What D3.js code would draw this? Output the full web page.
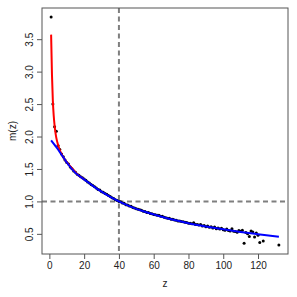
<!DOCTYPE html>
<html>
<head>
<meta charset="utf-8">
<script src="https://cdn.jsdelivr.net/npm/d3@7"></script>
<style>
  body { margin: 0; background: #fff; }
  svg { display: block; font-family: "Liberation Sans", Arial, sans-serif; }
  .tick text { font-size: 10px; fill: #222; }
</style>
</head>
<body>
<script>
const width = 297,
      height = 297;

// observed points m(z)
const pointZ = [
  1, 2, 3, 4, 5, 6, 7, 8, 9, 10,
  11, 12, 13, 14, 15, 16, 17, 18, 19, 20,
  21, 22, 23, 24, 25, 26, 27, 28, 29, 30,
  31, 32, 33, 34, 35, 36, 37, 38, 39, 40,
  41, 42, 43, 44, 45, 46, 47, 48, 49, 50,
  51, 52, 53, 54, 55, 56, 57, 58, 59, 60,
  61, 62, 63, 64, 65, 66, 67, 68, 69, 70,
  71, 72, 73, 74, 75, 76, 77, 78, 79, 80,
  81, 82, 83, 84, 85, 86, 87, 88, 89, 90,
  91, 92, 93, 94, 95, 96, 97, 98, 99, 100,
  101, 102, 103, 104, 105, 106, 107, 108, 109, 110,
  111, 112, 113, 114, 115, 116, 117, 118, 119, 120,
  121, 123, 132
];
const pointM = [
  3.84, 2.50, 2.15, 2.08, 1.86, 1.80, 1.73, 1.69, 1.64, 1.60,
  1.575, 1.53, 1.505, 1.47, 1.45, 1.42, 1.405, 1.38, 1.365, 1.345,
  1.325, 1.30, 1.285, 1.26, 1.245, 1.225, 1.205, 1.185, 1.175, 1.15,
  1.14, 1.12, 1.11, 1.09, 1.075, 1.055, 1.045, 1.025, 1.015, 1.00,
  0.995, 0.975, 0.97, 0.95, 0.945, 0.93, 0.925, 0.905, 0.90, 0.885,
  0.88, 0.87, 0.865, 0.85, 0.845, 0.83, 0.83, 0.815, 0.81, 0.80,
  0.795, 0.785, 0.785, 0.77, 0.77, 0.755, 0.75, 0.74, 0.74, 0.725,
  0.725, 0.715, 0.71, 0.70, 0.70, 0.69, 0.685, 0.68, 0.675, 0.665,
  0.665, 0.655, 0.67, 0.645, 0.645, 0.635, 0.645, 0.62, 0.63, 0.61,
  0.62, 0.60, 0.61, 0.59, 0.605, 0.58, 0.59, 0.575, 0.585, 0.565,
  0.555, 0.575, 0.55, 0.545, 0.58, 0.54, 0.535, 0.525, 0.55, 0.54,
  0.555, 0.355, 0.52, 0.50, 0.46, 0.545, 0.53, 0.45, 0.515, 0.48,
  0.365, 0.39, 0.33
];

// red fitted curve (low z)
const redZ = [1, 1.5, 2, 2.5, 3, 3.5, 4, 5, 6, 7, 8, 9, 10, 12, 14, 16, 20];
const redM = [3.57, 2.95, 2.55, 2.32, 2.17, 2.06, 1.98, 1.87, 1.79, 1.73, 1.68, 1.64, 1.605, 1.54, 1.48, 1.42, 1.34];

// blue fitted curve
const blueZ = [1, 3, 5, 7, 10, 15, 20, 25, 30, 35, 40, 45, 50, 55, 60, 70, 80, 90, 100, 110, 120, 132];
const blueM = [1.94, 1.87, 1.80, 1.72, 1.60, 1.44, 1.34, 1.24, 1.15, 1.07, 1.00, 0.94, 0.885, 0.84, 0.80, 0.725, 0.665, 0.615, 0.57, 0.53, 0.495, 0.455];

const xTicks = [0, 20, 40, 60, 80, 100, 120];
const yTicks = [0.5, 1.0, 1.5, 2.0, 2.5, 3.0, 3.5];
const refZ = 40,
      refM = 1;

const margin = {top: 8, right: 9, bottom: 43, left: 42};

const svg = d3.select("body").append("svg")
    .attr("width", width)
    .attr("height", height);

// R style: pad the data range by 4% on each side
function padded(ext) {
    const p = (ext[1] - ext[0]) * 0.04;
    return [ext[0] - p, ext[1] + p];
}

const x = d3.scaleLinear()
    .domain(padded(d3.extent(pointZ)))
    .range([margin.left, width - margin.right]);

const y = d3.scaleLinear()
    .domain(padded(d3.extent(pointM)))
    .range([height - margin.bottom, margin.top]);

const line = d3.line()
    .x(d => x(d[0]))
    .y(d => y(d[1]))
    .curve(d3.curveMonotoneX);

// reference lines
svg.append("line")
    .attr("x1", x(refZ)).attr("x2", x(refZ))
    .attr("y1", margin.top).attr("y2", height - margin.bottom)
    .attr("stroke", "#7f7f7f")
    .attr("stroke-width", 2)
    .attr("stroke-dasharray", "5,3.5");

svg.append("line")
    .attr("x1", margin.left).attr("x2", width - margin.right)
    .attr("y1", y(refM)).attr("y2", y(refM))
    .attr("stroke", "#7f7f7f")
    .attr("stroke-width", 2)
    .attr("stroke-dasharray", "5,3.5");

// points
svg.append("g")
  .selectAll("circle")
  .data(pointZ.map((z, i) => [z, pointM[i]]))
  .enter().append("circle")
    .attr("cx", d => x(d[0]))
    .attr("cy", d => y(d[1]))
    .attr("r", 1.5)
    .attr("fill", "#000");

svg.append("path")
    .datum(redZ.map((z, i) => [z, redM[i]]))
    .attr("d", line)
    .attr("fill", "none")
    .attr("stroke", "#ff0000")
    .attr("stroke-width", 2);

svg.append("path")
    .datum(blueZ.map((z, i) => [z, blueM[i]]))
    .attr("d", line)
    .attr("fill", "none")
    .attr("stroke", "#0000ff")
    .attr("stroke-width", 2);

// box
svg.append("rect")
    .attr("x", margin.left)
    .attr("y", margin.top)
    .attr("width", width - margin.left - margin.right)
    .attr("height", height - margin.top - margin.bottom)
    .attr("fill", "none")
    .attr("stroke", "#555")
    .attr("stroke-width", 1);

// axes
const xAxis = svg.append("g")
    .attr("transform", `translate(0,${height - margin.bottom})`)
    .call(d3.axisBottom(x).tickValues(xTicks).tickSize(5).tickPadding(3).tickFormat(d3.format("d")));

const yAxis = svg.append("g")
    .attr("transform", `translate(${margin.left},0)`)
    .call(d3.axisLeft(y).tickValues(yTicks).tickSize(5).tickFormat(d3.format(".1f")));

[xAxis, yAxis].forEach(ax => {
    ax.select(".domain").remove();
    ax.selectAll(".tick line").attr("stroke", "#555");
});

yAxis.selectAll(".tick text")
    .attr("transform", "rotate(-90)")
    .attr("x", 0)
    .attr("y", -9)
    .attr("dy", 0)
    .attr("text-anchor", "middle");

// axis titles
svg.append("text")
    .attr("x", (margin.left + width - margin.right) / 2)
    .attr("y", 287)
    .attr("text-anchor", "middle")
    .attr("font-size", 10)
    .attr("fill", "#222")
    .text("z");

svg.append("text")
    .attr("transform", `translate(16,${(margin.top + height - margin.bottom) / 2}) rotate(-90)`)
    .attr("text-anchor", "middle")
    .attr("font-size", 10)
    .attr("fill", "#222")
    .text("m(z)");
</script>
</body>
</html>
